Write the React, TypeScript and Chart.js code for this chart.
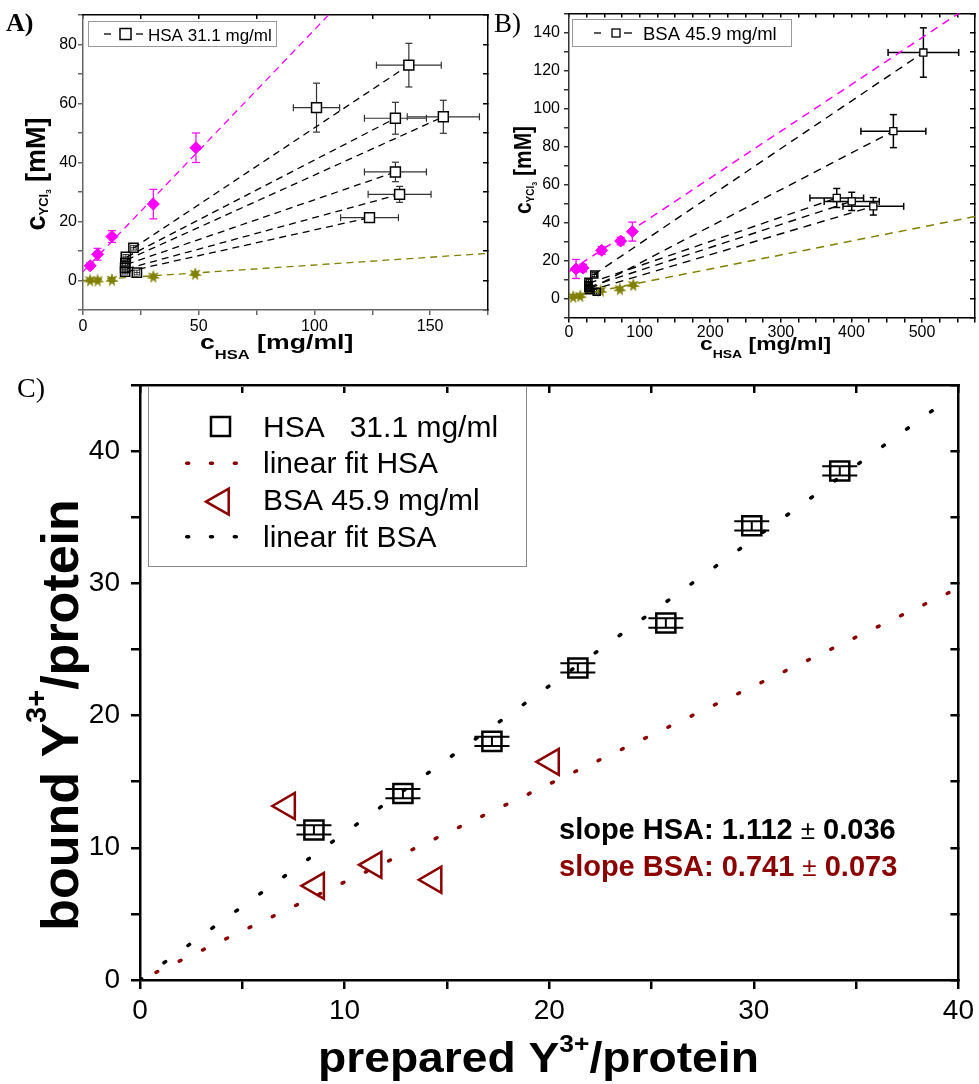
import React, { useEffect, useRef } from "react";
import { Chart, registerables } from "chart.js";

Chart.register(...registerables);

const W = 979;
const H = 1084;
const SANS = '"Liberation Sans", Arial, sans-serif';
const SERIF = '"Liberation Serif", "Times New Roman", serif';
const MAGENTA = "#ff00ff";
const OLIVE = "#808000";
const DARKRED = "#8b0000";

// ---------------- Panel A (HSA) ----------------
const aXTickLabels = [0, 50, 100, 150];
const aYTickLabels = [0, 20, 40, 60, 80];
const aHighX = [100.9, 140.8, 135.0, 155.7, 135.0, 136.8, 123.8];
const aHighY = [58.6, 73.0, 55.0, 55.5, 36.8, 29.2, 21.3];
const aHighXErr = [10, 14, 13.4, 15.6, 13.4, 13.6, 12.5];
const aHighYErr = [8.3, 7.4, 5.4, 5.6, 3.3, 2.7, 1.5];
const aLowX = [21.8, 18.5, 18.3, 18.2, 18.2, 23.3];
const aLowY = [11.1, 8.0, 6.0, 4.3, 3.0, 2.7];
const aLowXErr = [1.2, 1.2, 1.2, 1.2, 1.2, 1.2];
const aLowYErr = [0.8, 0.8, 0.8, 0.8, 0.8, 0.8];
const aMagX = [3.1, 6.3, 12.5, 30.4, 48.8];
const aMagY = [5.0, 8.9, 14.9, 25.9, 45.0];
const aMagErr = [1, 2, 2, 5, 5];
const aOliveX = [3.1, 6.3, 12.5, 30.4, 48.5];
const aOliveY = [0, 0, 0.2, 1.3, 2.2];
const aMagFitX = [0, 175];
const aMagFitY = [3, 146.5];
const aOliveFitX = [0, 175];
const aOliveFitY = [0, 9.2];
const aTieStartX = [21.8, 19, 19, 19, 19, 19];
const aTieStartY = [11, 8, 7, 5.5, 4, 3];
const aTieEndX = [140.8, 135, 155.7, 135, 136.8, 123.8];
const aTieEndY = [73, 55, 55.5, 36.8, 29.2, 21.3];

// ---------------- Panel B (BSA) ----------------
const bXTickLabels = [0, 100, 200, 300, 400, 500];
const bYTickLabels = [0, 20, 40, 60, 80, 100, 120, 140];
const bHighX = [501.9, 459.4, 379.2, 400.4, 431.0];
const bHighY = [129.5, 88.1, 52.9, 51.1, 48.5];
const bHighXErr = [50, 46, 38, 39, 43];
const bHighYErr = [13, 8.7, 5, 4.8, 4.6];
const bLowX = [35.8, 27.5, 27.3, 27.3, 28.5, 39.2];
const bLowY = [12.6, 8.7, 7, 5.5, 4.3, 3.5];
const bLowXErr = [3, 3, 3, 3, 3, 3];
const bLowYErr = [1.2, 1.2, 1.2, 1.2, 1.2, 1.2];
const bMagX = [10, 20, 46.3, 73.2, 89.7];
const bMagY = [15.5, 16, 25.3, 30.2, 35.2];
const bMagErr = [5, 2, 2, 2, 5];
const bOliveX = [6, 16, 45, 72, 91];
const bOliveY = [0.8, 1.2, 4, 4.8, 7];
const bMagFitX = [0, 575];
const bMagFitY = [14.1, 155.8];
const bOliveFitX = [0, 575];
const bOliveFitY = [0.8, 43.1];
const bTieStartX = [35, 30, 28, 28, 28];
const bTieStartY = [12.5, 5, 8, 6, 4];
const bTieEndX = [501.9, 459.4, 379.2, 400.4, 431.0];
const bTieEndY = [129.5, 88.1, 52.9, 51.1, 48.5];

// ---------------- Panel C ----------------
const cXTickLabels = [0, 10, 20, 30, 40];
const cYTickLabels = [0, 10, 20, 30, 40];
const cHsaX = [8.5, 12.85, 17.2, 21.4, 25.7, 29.9, 34.2];
const cHsaY = [11.35, 14.1, 18.05, 23.6, 27.0, 34.35, 38.5];
const cHsaErr = [0.35, 0.35, 0.35, 0.35, 0.35, 0.35, 0.35];
const cBsaX = [7.2, 8.62, 11.43, 14.36, 20.1];
const cBsaY = [13.16, 7.12, 8.71, 7.58, 16.5];
const cBlackFitX = [0, 39.3];
const cBlackFitY = [0, 43.7];
const cRedFitX = [0.78, 40];
const cRedFitY = [0.58, 29.64];

const pts = (xs: number[], ys: number[]) => xs.map((x, i) => ({ x, y: ys[i] }));

function axis(o: any) {
  const vertical = o.pos === "left" || o.pos === "right";
  return {
    type: "linear",
    position: o.pos,
    min: o.min,
    max: o.max,
    afterFit: (sc: any) => {
      if (vertical) sc.width = o.size;
      else sc.height = o.size;
    },
    ticks: {
      stepSize: o.step,
      autoSkip: false,
      maxRotation: 0,
      minRotation: 0,
      display: o.show !== false,
      padding: o.pad || 0,
      color: "#000",
      font: { family: SANS, size: o.font || 12 },
      callback: (v: number) => (o.labels.includes(v) ? String(v) : ""),
    },
    grid: {
      drawOnChartArea: false,
      drawTicks: true,
      tickLength: o.tick,
      color: o.color,
      lineWidth: o.width,
    },
    border: { display: true, color: o.color, width: o.width },
  };
}

function lineDs(xs: number[], ys: number[], color: string, dash: number[], width: number, cap = "butt") {
  return {
    data: pts(xs, ys),
    showLine: true,
    borderColor: color,
    backgroundColor: color,
    borderWidth: width,
    borderDash: dash,
    borderCapStyle: cap,
    pointRadius: 0,
    fill: false,
  };
}

const errorBars = {
  id: "errorBars",
  beforeDatasetsDraw(chart: any) {
    const ctx = chart.ctx;
    const xs = chart.scales.x;
    const ys = chart.scales.y;
    chart.data.datasets.forEach((ds: any) => {
      if (!ds.xErr && !ds.yErr) return;
      ctx.save();
      ctx.strokeStyle = ds.errColor || "#000";
      ctx.lineWidth = ds.errWidth || 1;
      const cap = ds.errCap || 6;
      const seg = (x1: number, y1: number, x2: number, y2: number) => {
        ctx.beginPath();
        ctx.moveTo(x1, y1);
        ctx.lineTo(x2, y2);
        ctx.stroke();
      };
      ds.data.forEach((p: any, i: number) => {
        const cx = xs.getPixelForValue(p.x);
        const cy = ys.getPixelForValue(p.y);
        if (ds.xErr && ds.xErr[i]) {
          const l = xs.getPixelForValue(p.x - ds.xErr[i]);
          const r = xs.getPixelForValue(p.x + ds.xErr[i]);
          seg(l, cy, r, cy);
          seg(l, cy - cap / 2, l, cy + cap / 2);
          seg(r, cy - cap / 2, r, cy + cap / 2);
        }
        if (ds.yErr && ds.yErr[i]) {
          const t = ys.getPixelForValue(p.y + ds.yErr[i]);
          const b = ys.getPixelForValue(p.y - ds.yErr[i]);
          seg(cx, t, cx, b);
          seg(cx - cap / 2, t, cx + cap / 2, t);
          seg(cx - cap / 2, b, cx + cap / 2, b);
        }
      });
      ctx.restore();
    });
  },
};

type Seg = { t: string; s: number; b?: boolean; dy?: number; c?: string; f?: string };
function rich(ctx: any, segs: Seg[], x: number, y: number, o: any = {}) {
  ctx.save();
  ctx.translate(x, y);
  if (o.rot) ctx.rotate(-Math.PI / 2);
  ctx.scale(o.sx || 1, o.sy || 1);
  ctx.textAlign = "left";
  ctx.textBaseline = "alphabetic";
  const fnt = (s: Seg) => `${s.b ? "bold " : ""}${s.s}px ${s.f || SANS}`;
  const ws = segs.map((s) => {
    ctx.font = fnt(s);
    return ctx.measureText(s.t).width;
  });
  const tot = ws.reduce((a, b) => a + b, 0);
  let cx = o.align === "center" ? -tot / 2 : o.align === "right" ? -tot : 0;
  segs.forEach((s, i) => {
    ctx.font = fnt(s);
    ctx.fillStyle = s.c || o.color || "#000";
    ctx.fillText(s.t, cx, s.dy || 0);
    cx += ws[i];
  });
  ctx.restore();
}

function seg(ctx: any, x1: number, y1: number, x2: number, y2: number) {
  ctx.beginPath();
  ctx.moveTo(x1, y1);
  ctx.lineTo(x2, y2);
  ctx.stroke();
}

function makeStar(color: string, R: number, r: number, n: number) {
  const c = document.createElement("canvas");
  const s = Math.ceil(R * 2 + 2);
  c.width = s;
  c.height = s;
  const g = c.getContext("2d") as CanvasRenderingContext2D;
  g.fillStyle = color;
  g.beginPath();
  for (let i = 0; i < 2 * n; i++) {
    const ang = (Math.PI * i) / n - Math.PI / 2;
    const rad = i % 2 === 0 ? R : r;
    g.lineTo(s / 2 + rad * Math.cos(ang), s / 2 + rad * Math.sin(ang));
  }
  g.closePath();
  g.fill();
  return c;
}

const baseOptions = (padding: any, scales: any) => ({
  responsive: false,
  maintainAspectRatio: false,
  animation: false,
  devicePixelRatio: 1,
  events: [],
  layout: { autoPadding: false, padding },
  plugins: { legend: { display: false }, tooltip: { enabled: false } },
  scales,
});

function cfgA(star: any) {
  const ties = aTieStartX.map((x0, i) =>
    lineDs([x0, aTieEndX[i]], [aTieStartY[i], aTieEndY[i]], "#000", [7, 5], 1.3)
  );
  return {
    type: "scatter",
    data: {
      datasets: [
        {
          label: "HSA 31.1 mg/ml",
          data: pts(aHighX, aHighY),
          xErr: aHighXErr,
          yErr: aHighYErr,
          errColor: "#333",
          errWidth: 1.2,
          errCap: 7,
          pointStyle: "rect",
          pointRadius: 7,
          pointBorderWidth: 1.5,
          pointBorderColor: "#000",
          pointBackgroundColor: "#fff",
        },
        {
          data: pts(aLowX, aLowY),
          xErr: aLowXErr,
          yErr: aLowYErr,
          errColor: "#333",
          errWidth: 1,
          errCap: 6,
          pointStyle: "rect",
          pointRadius: 6.5,
          pointBorderWidth: 1.5,
          pointBorderColor: "#000",
          pointBackgroundColor: "rgba(255,255,255,0)",
        },
        {
          data: pts(aMagX, aMagY),
          yErr: aMagErr,
          errColor: MAGENTA,
          errWidth: 1.2,
          errCap: 8,
          pointStyle: "rectRot",
          pointRadius: 6,
          pointBorderWidth: 1,
          pointBorderColor: MAGENTA,
          pointBackgroundColor: MAGENTA,
        },
        { data: pts(aOliveX, aOliveY), pointStyle: star, pointRadius: 6 },
        ...ties,
        lineDs(aMagFitX, aMagFitY, MAGENTA, [7, 5], 1.3),
        lineDs(aOliveFitX, aOliveFitY, OLIVE, [7, 5], 1.3),
      ],
    },
    options: baseOptions(
      { left: 0, right: W - 488 - 8, top: 15 - 8, bottom: H - 310 - 40 },
      {
        x: axis({ pos: "bottom", min: 0, max: 175, step: 25, labels: aXTickLabels, size: 40, tick: 5, font: 16, pad: 2, color: "#666", width: 1.5 }),
        y: axis({ pos: "left", min: -10, max: 90, step: 10, labels: aYTickLabels, size: 83, tick: 5, font: 16, pad: 1, color: "#666", width: 1.5 }),
        x2: axis({ pos: "top", min: 0, max: 175, step: 25, labels: [], size: 8, tick: -4, show: false, color: "#000", width: 1.5 }),
        y2: axis({ pos: "right", min: -10, max: 90, step: 10, labels: [], size: 8, tick: -5, show: false, color: "#000", width: 1.5 }),
      }
    ),
    plugins: [
      errorBars,
      {
        id: "decorA",
        afterDraw(chart: any) {
          const ctx = chart.ctx;
          ctx.save();
          rich(ctx, [{ t: "A)", s: 26, b: true, f: SERIF }], 6, 31);
          ctx.strokeStyle = "#999";
          ctx.lineWidth = 1;
          ctx.strokeRect(88.5, 21.5, 188, 25);
          ctx.strokeStyle = "#000";
          ctx.lineWidth = 1.3;
          seg(ctx, 104, 34, 111, 34);
          seg(ctx, 136, 34, 143, 34);
          ctx.fillStyle = "#fff";
          ctx.fillRect(120, 28.5, 11, 11);
          ctx.lineWidth = 1.5;
          ctx.strokeRect(120, 28.5, 11, 11);
          rich(ctx, [{ t: "HSA 31.1 mg/ml", s: 17 }], 148, 40.5);
          rich(
            ctx,
            [
              { t: "c", s: 27, b: true },
              { t: "YCl", s: 13, b: true, dy: 3 },
              { t: "3", s: 8, b: true, dy: 6 },
              { t: " [mM]", s: 27, b: true },
            ],
            45,
            174,
            { rot: true, align: "center" }
          );
          rich(
            ctx,
            [
              { t: "c", s: 21, b: true },
              { t: "HSA", s: 13, b: true, dy: 10 },
              { t: " [mg/ml]", s: 21, b: true },
            ],
            200,
            349,
            { sx: 1.27 }
          );
          ctx.restore();
        },
      },
    ],
  };
}

function cfgB(star: any) {
  const ties = bTieStartX.map((x0, i) =>
    lineDs([x0, bTieEndX[i]], [bTieStartY[i], bTieEndY[i]], "#000", [8, 6], 1.4)
  );
  return {
    type: "scatter",
    data: {
      datasets: [
        {
          label: "BSA 45.9 mg/ml",
          data: pts(bHighX, bHighY),
          xErr: bHighXErr,
          yErr: bHighYErr,
          errColor: "#000",
          errWidth: 1.5,
          errCap: 7,
          pointStyle: "rect",
          pointRadius: 5,
          pointBorderWidth: 1.3,
          pointBorderColor: "#000",
          pointBackgroundColor: "#fff",
        },
        {
          data: pts(bLowX, bLowY),
          xErr: bLowXErr,
          yErr: bLowYErr,
          errColor: "#000",
          errWidth: 1,
          errCap: 5,
          pointStyle: "rect",
          pointRadius: 5,
          pointBorderWidth: 1.5,
          pointBorderColor: "#000",
          pointBackgroundColor: "rgba(255,255,255,0)",
        },
        {
          data: pts(bMagX, bMagY),
          yErr: bMagErr,
          errColor: MAGENTA,
          errWidth: 1.3,
          errCap: 8,
          pointStyle: "rectRot",
          pointRadius: 6,
          pointBorderWidth: 1,
          pointBorderColor: MAGENTA,
          pointBackgroundColor: MAGENTA,
        },
        { data: pts(bOliveX, bOliveY), pointStyle: star, pointRadius: 6 },
        ...ties,
        lineDs(bMagFitX, bMagFitY, MAGENTA, [8, 6], 1.5),
        lineDs(bOliveFitX, bOliveFitY, OLIVE, [8, 6], 1.5),
      ],
    },
    options: baseOptions(
      { left: 569 - 50, right: 0, top: 12 - 8, bottom: H - 317.4 - 40 },
      {
        x: axis({ pos: "bottom", min: 0, max: 575, step: 25, labels: bXTickLabels, size: 40, tick: 5, font: 16, pad: 1, color: "#000", width: 1.5 }),
        y: axis({ pos: "left", min: -10, max: 150, step: 10, labels: bYTickLabels, size: 50, tick: 5, font: 16, pad: 4, color: "#333", width: 1.5 }),
        x2: axis({ pos: "top", min: 0, max: 575, step: 25, labels: [], size: 8, tick: -4, show: false, color: "#000", width: 1.5 }),
        y2: axis({ pos: "right", min: -10, max: 150, step: 10, labels: [], size: 4, tick: -5, show: false, color: "#000", width: 1.5 }),
      }
    ),
    plugins: [
      errorBars,
      {
        id: "decorB",
        afterDraw(chart: any) {
          const ctx = chart.ctx;
          ctx.save();
          rich(ctx, [{ t: "B)", s: 27, f: SERIF }], 494, 32);
          ctx.strokeStyle = "#999";
          ctx.lineWidth = 1;
          ctx.strokeRect(572.5, 19.5, 219, 27);
          ctx.strokeStyle = "#000";
          ctx.lineWidth = 1.3;
          seg(ctx, 594, 33, 601, 33);
          seg(ctx, 624, 33, 632, 33);
          ctx.fillStyle = "#fff";
          ctx.fillRect(612, 29, 8, 8);
          ctx.lineWidth = 1.3;
          ctx.strokeRect(612, 29, 8, 8);
          rich(ctx, [{ t: "BSA 45.9 mg/ml", s: 18.5 }], 643, 40);
          rich(
            ctx,
            [
              { t: "c", s: 21, b: true },
              { t: "YCl", s: 10, b: true, dy: 3 },
              { t: "3", s: 7, b: true, dy: 5 },
              { t: " [mM]", s: 21, b: true },
            ],
            531,
            170,
            { rot: true, align: "center", sy: 1.15 }
          );
          rich(
            ctx,
            [
              { t: "c", s: 18, b: true },
              { t: "HSA", s: 11, b: true, dy: 8 },
              { t: " [mg/ml]", s: 18, b: true },
            ],
            700,
            350,
            { sx: 1.27 }
          );
          ctx.restore();
        },
      },
    ],
  };
}

function cfgC() {
  return {
    type: "scatter",
    data: {
      datasets: [
        {
          label: "HSA 31.1 mg/ml",
          data: pts(cHsaX, cHsaY),
          yErr: cHsaErr,
          errColor: "#000",
          errWidth: 2,
          errCap: 35,
          pointStyle: "rect",
          pointRadius: 13.5,
          pointBorderWidth: 2.5,
          pointBorderColor: "#000",
          pointBackgroundColor: "rgba(0,0,0,0)",
        },
        {
          label: "BSA 45.9 mg/ml",
          data: pts(cBsaX, cBsaY),
          pointStyle: "triangle",
          pointRotation: -90,
          pointRadius: 15,
          pointBorderWidth: 2.5,
          pointBorderColor: DARKRED,
          pointBackgroundColor: "rgba(0,0,0,0)",
        },
        lineDs(cBlackFitX, cBlackFitY, "#000", [2, 27.5], 3.5, "round"),
        lineDs(cRedFitX, cRedFitY, DARKRED, [2, 23.8], 3.5, "round"),
      ],
    },
    options: baseOptions(
      { left: 0, right: 0, top: 370, bottom: 0 },
      {
        x: axis({ pos: "bottom", min: 0, max: 40, step: 5, labels: cXTickLabels, size: 104, tick: 9, font: 28, pad: 5, color: "#000", width: 2.5 }),
        y: axis({ pos: "left", min: 0, max: 45, step: 5, labels: cYTickLabels, size: 140, tick: 9, font: 28, pad: 11, color: "#000", width: 2.5 }),
        x2: axis({ pos: "top", min: 0, max: 40, step: 5, labels: [], size: 15, tick: -8, show: false, color: "#000", width: 2.5 }),
        y2: axis({ pos: "right", min: 0, max: 45, step: 5, labels: [], size: 19, tick: -8, show: false, color: "#000", width: 2.5 }),
      }
    ),
    plugins: [
      errorBars,
      {
        id: "decorC",
        afterDraw(chart: any) {
          const ctx = chart.ctx;
          ctx.save();
          rich(ctx, [{ t: "C)", s: 28, f: SERIF }], 17, 397);
          ctx.strokeStyle = "#888";
          ctx.lineWidth = 1;
          ctx.strokeRect(148.5, 386.5, 378, 180);
          ctx.strokeStyle = "#000";
          ctx.lineWidth = 2.5;
          ctx.strokeRect(211, 417, 19, 19);
          rich(ctx, [{ t: "HSA   31.1 mg/ml", s: 30 }], 263, 436.7);
          ctx.lineCap = "round";
          ctx.lineWidth = 3.5;
          ctx.setLineDash([2, 21.8]);
          ctx.strokeStyle = DARKRED;
          seg(ctx, 186.7, 463.3, 240, 463.3);
          rich(ctx, [{ t: "linear fit HSA", s: 30 }], 263, 473.3);
          ctx.setLineDash([]);
          ctx.lineCap = "butt";
          ctx.lineWidth = 2.5;
          ctx.beginPath();
          ctx.moveTo(206, 501.7);
          ctx.lineTo(228.7, 488.7);
          ctx.lineTo(228.7, 514.7);
          ctx.closePath();
          ctx.stroke();
          rich(ctx, [{ t: "BSA 45.9 mg/ml", s: 30 }], 263, 510);
          ctx.lineCap = "round";
          ctx.lineWidth = 3.5;
          ctx.setLineDash([2, 21.8]);
          ctx.strokeStyle = "#000";
          seg(ctx, 186.7, 536.7, 240, 536.7);
          ctx.setLineDash([]);
          rich(ctx, [{ t: "linear fit BSA", s: 30 }], 263, 546.7);
          rich(
            ctx,
            [
              { t: "slope HSA: 1.112 ", s: 29, b: true },
              { t: "±", s: 26 },
              { t: " 0.036", s: 29, b: true },
            ],
            559,
            839
          );
          rich(
            ctx,
            [
              { t: "slope BSA: 0.741 ", s: 29, b: true },
              { t: "±", s: 26 },
              { t: " 0.073", s: 29, b: true },
            ],
            559,
            876,
            { color: DARKRED }
          );
          rich(
            ctx,
            [
              { t: "bound Y", s: 52, b: true },
              { t: "3+", s: 29, b: true, dy: -32 },
              { t: "/protein", s: 52, b: true },
            ],
            78,
            715,
            { rot: true, align: "center" }
          );
          rich(
            ctx,
            [
              { t: "prepared Y", s: 42, b: true },
              { t: "3+", s: 24, b: true, dy: -20 },
              { t: "/protein", s: 42, b: true },
            ],
            318,
            1072,
            { sx: 1.1 }
          );
          ctx.restore();
        },
      },
    ],
  };
}

export default function App() {
  const refA = useRef<HTMLCanvasElement | null>(null);
  const refB = useRef<HTMLCanvasElement | null>(null);
  const refC = useRef<HTMLCanvasElement | null>(null);

  useEffect(() => {
    const star = makeStar(OLIVE, 7, 3.2, 7);
    const charts = [
      new Chart(refA.current as any, cfgA(star) as any),
      new Chart(refB.current as any, cfgB(star) as any),
      new Chart(refC.current as any, cfgC() as any),
    ];
    return () => charts.forEach((c) => c.destroy());
  }, []);

  const cs: React.CSSProperties = { position: "absolute", left: 0, top: 0, width: W, height: H };
  return (
    <div style={{ position: "absolute", left: 0, top: 0, width: W, height: H, background: "#fff", overflow: "hidden" }}>
      <canvas ref={refA} width={W} height={H} style={cs} />
      <canvas ref={refB} width={W} height={H} style={cs} />
      <canvas ref={refC} width={W} height={H} style={cs} />
    </div>
  );
}
